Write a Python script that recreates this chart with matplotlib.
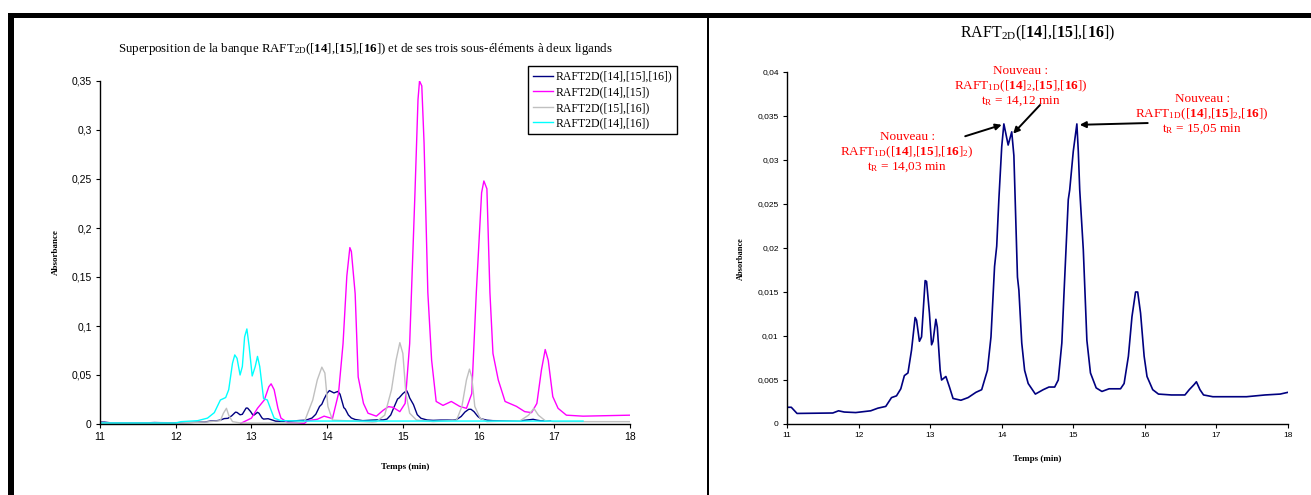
import numpy as np
import matplotlib
matplotlib.use("Agg")
import matplotlib.pyplot as plt
from matplotlib.patches import Rectangle
from matplotlib.ticker import FuncFormatter, MultipleLocator

"""""""""""""""""""""""""""""""""""""""""""""""""""""""""
: Data (read off the chromatograms)
"""""""""""""""""""""""""""""""""""""""""""""""""""""""""
# RAFT2D([14],[15],[16]) - full library
t_lib = [11.0, 11.06, 11.14, 11.64, 11.72, 11.8, 11.96, 12.17, 12.27, 12.38,
         12.46, 12.53, 12.59, 12.64, 12.69, 12.74, 12.79, 12.81, 12.85, 12.88,
         12.93, 12.95, 12.99, 13.02, 13.04, 13.08, 13.1, 13.14, 13.16, 13.22,
         13.27, 13.32, 13.43, 13.53, 13.64, 13.72, 13.8, 13.85, 13.9, 13.93,
         13.96, 14.0, 14.03, 14.09, 14.14, 14.17, 14.22, 14.24, 14.28, 14.32,
         14.37, 14.47, 14.58, 14.66, 14.74, 14.79, 14.84, 14.87, 14.93, 14.95,
         15.0, 15.05, 15.07, 15.09, 15.14, 15.19, 15.24, 15.32, 15.4, 15.5,
         15.66, 15.71, 15.77, 15.82, 15.87, 15.9, 15.94, 15.99, 16.03, 16.11,
         16.19, 16.37, 16.56, 16.62, 16.69, 16.72, 16.77, 16.82, 16.95, 17.42,
         17.68, 17.89, 18.0]
a_lib = [0.0019, 0.0019, 0.0012, 0.00125, 0.0015, 0.00136, 0.0013, 0.0015, 0.0018, 0.002,
         0.003, 0.0032, 0.004, 0.0055, 0.0058, 0.0084, 0.0121, 0.0118, 0.0094, 0.0099,
         0.0163, 0.0162, 0.0126, 0.009, 0.0094, 0.0119, 0.011, 0.0061, 0.005, 0.0054,
         0.0042, 0.0029, 0.0027, 0.003, 0.0036, 0.0039, 0.0061, 0.0099, 0.0179, 0.0202,
         0.0255, 0.0315, 0.0341, 0.0317, 0.0332, 0.0305, 0.0167, 0.0152, 0.0092, 0.0061,
         0.0046, 0.0034, 0.0039, 0.0042, 0.0042, 0.005, 0.0092, 0.0148, 0.0255, 0.0266,
         0.031, 0.0341, 0.031, 0.0266, 0.0198, 0.0095, 0.0058, 0.0041, 0.0037, 0.004,
         0.004, 0.0046, 0.0077, 0.0122, 0.015, 0.015, 0.0126, 0.0077, 0.0054, 0.0039,
         0.0034, 0.0033, 0.0033, 0.0039, 0.0045, 0.0048, 0.0039, 0.0033, 0.0031, 0.0031,
         0.0033, 0.0034, 0.0036]

# RAFT2D([14],[15])
t_1415 = [12.86, 13.0, 13.08, 13.17, 13.23, 13.26, 13.3, 13.35, 13.39, 13.48,
          13.7, 13.74, 13.87, 13.96, 14.07, 14.15, 14.21, 14.26, 14.3, 14.32,
          14.37, 14.41, 14.48, 14.54, 14.65, 14.74, 14.81, 14.87, 14.96, 15.03,
          15.09, 15.16, 15.2, 15.22, 15.25, 15.28, 15.33, 15.38, 15.44, 15.53,
          15.64, 15.75, 15.84, 15.91, 15.97, 16.04, 16.07, 16.11, 16.15, 16.19,
          16.26, 16.35, 16.5, 16.61, 16.7, 16.77, 16.83, 16.88, 16.92, 16.98,
          17.05, 17.16, 17.38, 18.0]
a_1415 = [0.0007, 0.006, 0.016, 0.0245, 0.038, 0.041, 0.035, 0.016, 0.006, 0.0014,
          0.0007, 0.0034, 0.0048, 0.008, 0.0055, 0.031, 0.082, 0.151, 0.18, 0.176,
          0.133, 0.048, 0.021, 0.011, 0.008, 0.014, 0.0177, 0.017, 0.0126, 0.021,
          0.082, 0.236, 0.331, 0.35, 0.345, 0.287, 0.134, 0.065, 0.023, 0.019,
          0.023, 0.018, 0.016, 0.031, 0.134, 0.236, 0.248, 0.24, 0.134, 0.072,
          0.045, 0.023, 0.018, 0.0126, 0.0116, 0.021, 0.055, 0.076, 0.065, 0.028,
          0.016, 0.009, 0.008, 0.009]

# RAFT2D([15],[16])
t_1516 = [11.0, 12.0, 12.4, 12.59, 12.63, 12.67, 12.7, 12.75, 12.86, 13.6,
          13.7, 13.81, 13.87, 13.93, 13.97, 14.01, 14.07, 14.6, 14.65, 14.76,
          14.85, 14.91, 14.96, 15.0, 15.04, 15.09, 15.18, 15.4, 15.71, 15.78,
          15.84, 15.88, 15.91, 15.95, 16.02, 16.11, 16.55, 16.66, 16.73, 16.79,
          16.88, 16.99, 18.0]
a_1516 = [0.001, 0.001, 0.002, 0.0034, 0.011, 0.016, 0.009, 0.0024, 0.001, 0.001,
          0.0024, 0.0245, 0.045, 0.058, 0.052, 0.018, 0.004, 0.002, 0.0024, 0.009,
          0.035, 0.065, 0.083, 0.072, 0.031, 0.011, 0.004, 0.0024, 0.004, 0.018,
          0.045, 0.056, 0.048, 0.018, 0.006, 0.0024, 0.0034, 0.009, 0.016, 0.009,
          0.0034, 0.0024, 0.0024]

# RAFT2D([14],[16])
t_1416 = [11.0, 12.0, 12.07, 12.29, 12.42, 12.51, 12.59, 12.66, 12.7, 12.75,
          12.78, 12.81, 12.85, 12.88, 12.91, 12.94, 12.97, 13.01, 13.05, 13.08,
          13.11, 13.16, 13.21, 13.26, 13.3, 13.39, 13.74, 17.38]
a_1416 = [0.001, 0.001, 0.0024, 0.0034, 0.006, 0.0116, 0.0245, 0.027, 0.035, 0.062,
          0.0705, 0.067, 0.05, 0.0586, 0.089, 0.097, 0.079, 0.049, 0.0586, 0.069,
          0.0586, 0.026, 0.0245, 0.014, 0.006, 0.0034, 0.003, 0.003]

# left panel: the library trace stops around 17 min
t_lib_end = 16.95

series_labels = ["RAFT2D([14],[15],[16])", "RAFT2D([14],[15])",
                 "RAFT2D([15],[16])", "RAFT2D([14],[16])"]
series_colors = ["#000080", "#FF00FF", "#C0C0C0", "#00FFFF"]

left_title = (r"Superposition de la banque RAFT$_{\mathrm{2D}}$([$\mathbf{14}$],[$\mathbf{15}$],"
              r"[$\mathbf{16}$]) et de ses trois sous-éléments à deux ligands")
right_title = r"RAFT$_{\mathrm{2D}}$([$\mathbf{14}$],[$\mathbf{15}$],[$\mathbf{16}$])"

# annotations: (peak, tail, text centre, text lines)
notes = [
    ((14.16, 0.0330), (14.535, 0.03625), (14.27, 0.0384),
     ["Nouveau :",
      r"RAFT$_{\mathrm{1D}}$([$\mathbf{14}$]$_{2}$,[$\mathbf{15}$],[$\mathbf{16}$])",
      r"t$_{\mathrm{R}}$ = 14,12 min"]),
    ((14.0, 0.0340), (13.49, 0.0327), (12.68, 0.0309),
     ["Nouveau :",
      r"RAFT$_{\mathrm{1D}}$([$\mathbf{14}$],[$\mathbf{15}$],[$\mathbf{16}$]$_{2}$)",
      r"t$_{\mathrm{R}}$ = 14,03 min"]),
    ((15.09, 0.0340), (16.04, 0.0342), (16.80, 0.0352),
     ["Nouveau :",
      r"RAFT$_{\mathrm{1D}}$([$\mathbf{14}$],[$\mathbf{15}$]$_{2}$,[$\mathbf{16}$])",
      r"t$_{\mathrm{R}}$ = 15,05 min"]),
]

"""""""""""""""""""""""""""""""""""""""""""""""""""""""""
: Style
"""""""""""""""""""""""""""""""""""""""""""""""""""""""""
plt.rcParams["font.family"] = ["Liberation Sans", "DejaVu Sans"]
plt.rcParams["mathtext.fontset"] = "custom"
plt.rcParams["mathtext.rm"] = "Liberation Serif"
plt.rcParams["mathtext.it"] = "Liberation Serif:italic"
plt.rcParams["mathtext.bf"] = "Liberation Serif:bold"

SERIF = ["Liberation Serif", "DejaVu Serif"]


def comma_fmt(v, pos):
    return ("%g" % v).replace(".", ",")


def style_axes(ax, ystep, tick_size):
    ax.set_xlim(11, 18)
    ax.xaxis.set_major_locator(MultipleLocator(1))
    ax.yaxis.set_major_locator(MultipleLocator(ystep))
    ax.yaxis.set_major_formatter(FuncFormatter(comma_fmt))
    for side in ["top", "right"]:
        ax.spines[side].set_visible(False)
    for side in ["left", "bottom"]:
        ax.spines[side].set_linewidth(1.0)
    ax.tick_params(direction="out", length=3, width=0.8, labelsize=tick_size, pad=3)
    ax.grid(False)


fig = plt.figure(figsize=(13.11, 4.95), dpi=100)

"""""""""""""""""""""""""""""""""""""""""""""""""""""""""
: Left panel
"""""""""""""""""""""""""""""""""""""""""""""""""""""""""
axL = fig.add_axes([100 / 1311, 71 / 495, 530 / 1311, 343 / 495])
t_lib_arr, a_lib_arr = np.array(t_lib), np.array(a_lib)
keep = t_lib_arr <= t_lib_end
traces = [(t_lib_arr[keep], a_lib_arr[keep]), (t_1415, a_1415),
          (t_1516, a_1516), (t_1416, a_1416)]
for (tt, aa), lab, col in zip(traces, series_labels, series_colors):
    axL.plot(tt, aa, color=col, lw=1.0, label=lab)
axL.set_ylim(0, 0.35)
style_axes(axL, 0.05, 7.5)
axL.set_title(left_title, family=SERIF, fontsize=9.3, pad=21)
axL.set_ylabel("Absorbance", family=SERIF, fontweight="bold", fontsize=6.5)
axL.yaxis.set_label_coords(-0.075, 0.5)
axL.set_xlabel("Temps (min)", family=SERIF, fontweight="bold", fontsize=6.5)
axL.xaxis.set_label_coords(0.575, -0.115)
leg = axL.legend(loc="upper left", bbox_to_anchor=(528 / 1311, 429 / 495),
                 bbox_transform=fig.transFigure, prop={"family": SERIF, "size": 8.5},
                 frameon=True, fancybox=False, edgecolor="black", framealpha=1,
                 handlelength=1.7, handletextpad=0.2, labelspacing=0.3,
                 borderpad=0.4, borderaxespad=0)
leg.get_frame().set_linewidth(1.0)

"""""""""""""""""""""""""""""""""""""""""""""""""""""""""
: Right panel
"""""""""""""""""""""""""""""""""""""""""""""""""""""""""
axR = fig.add_axes([787 / 1311, 71 / 495, 501 / 1311, 352 / 495])
axR.plot(t_lib, a_lib, color=series_colors[0], lw=1.2)
axR.set_ylim(0, 0.04)
style_axes(axR, 0.005, 6)
axR.set_title(right_title, family=SERIF, fontsize=11.5, pad=25)
axR.set_ylabel("Absorbance", family=SERIF, fontweight="bold", fontsize=6)
axR.yaxis.set_label_coords(-0.084, 0.47)
axR.set_xlabel("Temps (min)", family=SERIF, fontweight="bold", fontsize=6.5)
axR.xaxis.set_label_coords(0.5, -0.088)

line_step = 0.00176
for peak, tail, center, lines in notes:
    axR.annotate("", xy=peak, xytext=tail,
                 arrowprops=dict(arrowstyle="-|>", color="black", lw=1.4,
                                 mutation_scale=9, shrinkA=0, shrinkB=0))
    for i, txt in enumerate(lines):
        axR.text(center[0], center[1] + (1 - i) * line_step, txt, color="#FF0000",
                 family=SERIF, fontsize=9.5, ha="center", va="center", clip_on=False)

"""""""""""""""""""""""""""""""""""""""""""""""""""""""""
: Frame lines
"""""""""""""""""""""""""""""""""""""""""""""""""""""""""
fig.add_artist(Rectangle((8 / 1311, 477 / 495), 1303 / 1311, 5 / 495,
                         transform=fig.transFigure, color="black", lw=0))
fig.add_artist(Rectangle((8 / 1311, 0), 6 / 1311, 482 / 495,
                         transform=fig.transFigure, color="black", lw=0))
fig.add_artist(Rectangle((707 / 1311, 0), 2 / 1311, 478 / 495,
                         transform=fig.transFigure, color="black", lw=0))

plt.savefig("out.png", dpi=100)
plt.close()
